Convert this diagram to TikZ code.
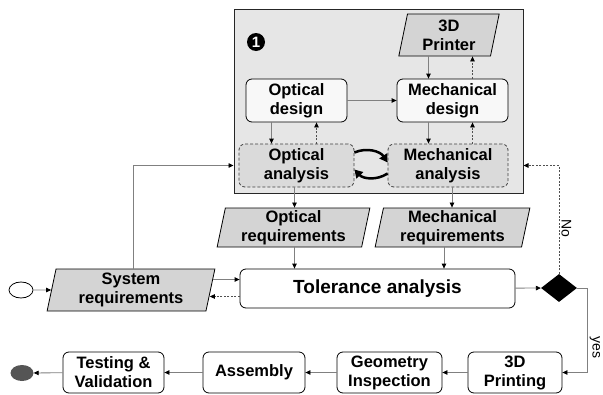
\documentclass[tikz,border=0pt]{standalone}
\usepackage{fontspec}
\setmainfont{Liberation Sans}
\usetikzlibrary{shapes.geometric,arrows.meta}

\begin{document}
\begin{tikzpicture}[x=1pt,y=-1pt,
    every node/.style={font=\bfseries\fontsize{16.5}{19}\selectfont, align=center},
    proc/.style={draw, line width=0.8pt, rounded corners=6pt, fill=white, minimum height=41pt, inner sep=2pt},
    design/.style={proc, fill=designfill, minimum height=43pt},
    anal/.style={proc, fill=anafill, draw=black!75, dash pattern=on 3pt off 2pt, minimum height=43pt},
    data/.style={trapezium, trapezium left angle=80, trapezium right angle=100, trapezium stretches=true,
        draw, line width=0.8pt, fill=datafill, inner sep=1pt},
    line/.style={draw=linegray, line width=0.8pt, -{Triangle[color=black,length=5pt,width=4.5pt]}},
    back/.style={line, draw=backgray, dash pattern=on 2pt off 1.5pt},
    swap/.style={line width=2.5pt, -{Triangle[length=8pt,width=9pt]}},
    lbl/.style={font=\fontsize{14}{14}\selectfont, rotate=-90, anchor=south, inner sep=2pt}
]
    % Define colors
    \definecolor{boxfill}{RGB}{230,230,230}
    \definecolor{datafill}{RGB}{212,212,212}
    \definecolor{designfill}{RGB}{248,248,248}
    \definecolor{anafill}{RGB}{218,218,218}
    \definecolor{linegray}{RGB}{128,128,128}
    \definecolor{backgray}{RGB}{80,80,80}
    \definecolor{endgray}{RGB}{85,85,85}

    \useasboundingbox (0,0) rectangle (603,394);

    % Design loop
    \node[draw=black!85, line width=1pt, fill=boxfill, minimum width=289pt, minimum height=184pt, inner sep=0pt] (loop) at (378.5,101) {};
    \node[circle, fill=black, text=white, inner sep=0pt, minimum size=18pt, font=\bfseries\fontsize{15}{15}\selectfont] (one) at (256,42) {1};
    \node[data, minimum width=101pt, minimum height=42pt] (printer) at (449,35) {3D\\Printer};
    \node[design, minimum width=101pt] (odes) at (296.5,100.5) {Optical\\design};
    \node[design, minimum width=111pt] (mdes) at (452.5,100.5) {Mechanical\\design};
    \node[anal, minimum width=115pt] (oana) at (296.5,165.5) {Optical\\analysis};
    \node[anal, minimum width=120pt] (mana) at (448,165.5) {Mechanical\\analysis};

    % Requirements
    \node[data, minimum width=153pt, minimum height=39pt] (oreq) at (293.5,227.5) {Optical\\requirements};
    \node[data, minimum width=155pt, minimum height=39pt] (mreq) at (452.5,227.5) {Mechanical\\requirements};
    \node[data, minimum width=168pt, minimum height=42pt] (sreq) at (131,290) {System\\requirements};
    \node[proc, minimum width=275pt, minimum height=39pt, font=\bfseries\fontsize{19}{22}\selectfont] (tol) at (377.5,288.5) {Tolerance analysis};
    \node[diamond, fill=black, minimum width=36pt, minimum height=28pt, inner sep=0pt] (check) at (559,288) {};
    \node[ellipse, draw, line width=0.8pt, fill=white, minimum width=24pt, minimum height=16pt, inner sep=0pt] (start) at (21,290) {};

    % Manufacturing
    \node[proc, minimum width=94pt] (print) at (515,372.5) {3D\\Printing};
    \node[proc, minimum width=105pt] (geo) at (389.5,372.5) {Geometry\\Inspection};
    \node[proc, minimum width=102pt] (asm) at (254,372.5) {Assembly};
    \node[proc, minimum width=101pt] (test) at (113.5,372.5) {Testing \&\\Validation};
    \node[ellipse, fill=endgray, minimum width=23pt, minimum height=16pt, inner sep=0pt] (stop) at (22,373) {};

    % Arrows inside the loop
    \draw[line] ([xshift=-24pt]mdes.north |- printer.south) -- ([xshift=-24pt]mdes.north);
    \draw[back] ([xshift=20pt]mdes.north) -- ([xshift=20pt]mdes.north |- printer.south);
    \draw[line] (odes) -- (mdes);
    \draw[line] ([xshift=-25pt]odes.south) -- ([xshift=-25pt]odes.south |- oana.north);
    \draw[back] ([xshift=20pt]odes.south |- oana.north) -- ([xshift=20pt]odes.south);
    \draw[line] ([xshift=-24pt]mdes.south) -- ([xshift=-24pt]mdes.south |- mana.north);
    \draw[back] ([xshift=20pt]mdes.south |- mana.north) -- ([xshift=20pt]mdes.south);
    \draw[swap] ([yshift=13pt]oana.east) to[bend left=40] ([yshift=3pt]mana.west);
    \draw[swap] ([yshift=-8pt]mana.west) to[bend left=40] ([yshift=-4pt]oana.east);

    % Requirements to tolerance analysis
    \draw[line] ([xshift=-2pt]oana.south) -- ([xshift=-2pt]oana.south |- oreq.north);
    \draw[line] ([xshift=4pt]mana.south) -- ([xshift=4pt]mana.south |- mreq.north);
    \draw[line] ([xshift=-2pt]oana.south |- oreq.south) -- ([xshift=-2pt]oana.south |- tol.north);
    \draw[line] ([xshift=-4pt]mana.south |- mreq.south) -- ([xshift=-4pt]mana.south |- tol.north);
    \coordinate (tin) at ([yshift=9pt]tol.west);
    \coordinate (tout) at ([yshift=-8pt]tol.west);
    \draw[line] (start) -- (sreq);
    \draw[line] ([xshift=2pt]sreq.east |- tin) -- (tin);
    \draw[back] (tout) -- ([xshift=-1pt]sreq.east |- tout);
    \draw[line] ([xshift=2pt]sreq.north) |- (loop.west |- oana);

    % Decision
    \draw[line] (tol) -- (check);
    \draw[back] (check.north) |- node[lbl, pos=0.21] {No} (loop.east |- mana);
    \draw[line] (check.east) -- ++(10,0) |- node[lbl, pos=0.35] {yes} (print.east);

    % Manufacturing chain
    \draw[line] (print) -- (geo);
    \draw[line] (geo) -- (asm);
    \draw[line] (asm) -- (test);
    \draw[line] (test) -- (stop);
\end{tikzpicture}
\end{document}
